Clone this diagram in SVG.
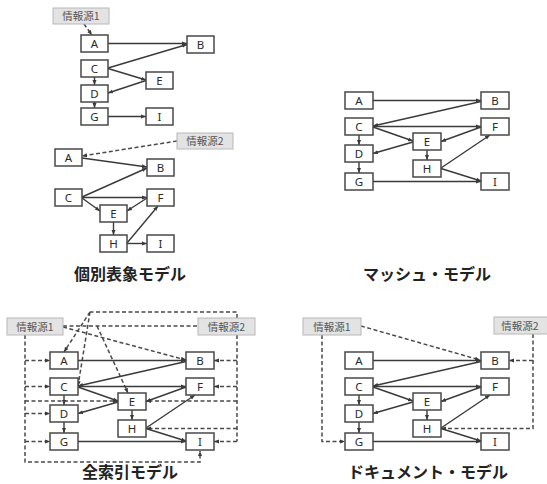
<svg xmlns="http://www.w3.org/2000/svg" width="547" height="484" viewBox="0 0 547 484">
<style>
.bg{fill:#fff}
.box rect{fill:#fff;stroke:#484848;stroke-width:1.5}
.box text{font-family:"Noto Sans","Open Sans",sans-serif;font-size:11.5px;fill:#2a2a2a;text-anchor:middle}
.src rect{fill:#e3e3e3;stroke:#b8b8b8;stroke-width:1}
.src text{font-family:"Noto Sans CJK JP","Noto Sans",sans-serif;font-size:10.5px;fill:#555;text-anchor:middle}
.e{fill:none;stroke:#3a3a3a;stroke-width:1.4;marker-end:url(#ah)}
.d{fill:none;stroke:#4a4a4a;stroke-width:1.5;stroke-dasharray:4 2.5}
.da{marker-end:url(#ah)}
.title{font-family:"Noto Sans CJK JP",sans-serif;font-size:16px;font-weight:bold;fill:#222;text-anchor:middle}
</style>
<defs>
<marker id="ah" viewBox="0 0 10 10" refX="10" refY="5" markerWidth="5" markerHeight="5" markerUnits="userSpaceOnUse" orient="auto"><path d="M0,1 L10,5 L0,9 z" fill="#3a3a3a"/></marker>
</defs>
<rect class="bg" x="0" y="0" width="547" height="484"/>

<!-- ===== Panel 1: 個別表象モデル ===== -->
<g id="p1-connectors">
<path class="d da" d="M84,24 L92,35"/>
<path class="e" d="M108,43.5 L187,43.5"/>
<path class="e" d="M108,68 L187,44.5"/>
<path class="e" d="M108,68.5 L146,80"/>
<path class="e" d="M146,80.5 L108,93"/>
<path class="e" d="M94.5,77 V85"/>
<path class="e" d="M94.5,102 V108"/>
<path class="e" d="M108,116.5 H146"/>
<path class="d da" d="M177,141 L82,156"/>
<path class="e" d="M82,158 L147,167"/>
<path class="e" d="M82,197 L147,168"/>
<path class="e" d="M82,197.5 H147"/>
<path class="e" d="M82,198 L100,211"/>
<path class="e" d="M147,198 L127,211"/>
<path class="e" d="M113.5,222 V235"/>
<path class="e" d="M127,243 L158,206"/>
<path class="e" d="M127,243.5 H147"/>
</g>
<g id="p1-src1" class="src"><rect x="53" y="8" width="56" height="16"/><text x="81" y="20">情報源1</text></g>
<g id="p1-A1" class="box"><rect x="81" y="35" width="27" height="17"/><text x="94.5" y="47.5">A</text></g>
<g id="p1-B1" class="box"><rect x="187" y="36" width="27" height="17"/><text x="200.5" y="48.5">B</text></g>
<g id="p1-C1" class="box"><rect x="81" y="60" width="27" height="17"/><text x="94.5" y="72.5">C</text></g>
<g id="p1-E1" class="box"><rect x="146" y="72" width="27" height="17"/><text x="159.5" y="84.5">E</text></g>
<g id="p1-D1" class="box"><rect x="81" y="85" width="27" height="17"/><text x="94.5" y="97.5">D</text></g>
<g id="p1-G1" class="box"><rect x="81" y="108" width="27" height="17"/><text x="94.5" y="120.5">G</text></g>
<g id="p1-I1" class="box"><rect x="146" y="108" width="27" height="17"/><text x="159.5" y="120.5">I</text></g>
<g id="p1-src2" class="src"><rect x="177" y="133" width="56" height="16"/><text x="205" y="145">情報源2</text></g>
<g id="p1-A2" class="box"><rect x="55" y="149" width="27" height="17"/><text x="68.5" y="161.5">A</text></g>
<g id="p1-B2" class="box"><rect x="147" y="159" width="27" height="17"/><text x="160.5" y="171.5">B</text></g>
<g id="p1-C2" class="box"><rect x="55" y="189" width="27" height="17"/><text x="68.5" y="201.5">C</text></g>
<g id="p1-F2" class="box"><rect x="147" y="189" width="27" height="17"/><text x="160.5" y="201.5">F</text></g>
<g id="p1-E2" class="box"><rect x="100" y="205" width="27" height="17"/><text x="113.5" y="217.5">E</text></g>
<g id="p1-H2" class="box"><rect x="100" y="235" width="27" height="17"/><text x="113.5" y="247.5">H</text></g>
<g id="p1-I2" class="box"><rect x="147" y="235" width="27" height="17"/><text x="160.5" y="247.5">I</text></g>
<text class="title" x="130" y="280">個別表象モデル</text>

<!-- ===== Panel 2: マッシュ・モデル ===== -->
<g id="p2">
<g id="p2-connectors">
<path class="e" d="M373,100.5 L481,100.5"/>
<path class="e" d="M481,101.5 L373,126"/>
<path class="e" d="M373,126.5 L481,126.5"/>
<path class="e" d="M373,127 L413,141"/>
<path class="e" d="M481,127 L441,141.5"/>
<path class="e" d="M413,142 L373,153.5"/>
<path class="e" d="M359,135 V145"/>
<path class="e" d="M359,162 V173"/>
<path class="e" d="M427,150 V160"/>
<path class="e" d="M441,168 L490,135"/>
<path class="e" d="M441,168.5 L481,181"/>
<path class="e" d="M373,181.5 L481,181.5"/>
</g>
<g id="p2-A" class="box"><rect x="345" y="92" width="28" height="17"/><text x="359" y="104.5">A</text></g>
<g id="p2-B" class="box"><rect x="481" y="92" width="28" height="17"/><text x="495" y="104.5">B</text></g>
<g id="p2-C" class="box"><rect x="345" y="118" width="28" height="17"/><text x="359" y="130.5">C</text></g>
<g id="p2-F" class="box"><rect x="481" y="118" width="28" height="17"/><text x="495" y="130.5">F</text></g>
<g id="p2-E" class="box"><rect x="413" y="133" width="28" height="17"/><text x="427" y="145.5">E</text></g>
<g id="p2-D" class="box"><rect x="345" y="145" width="28" height="17"/><text x="359" y="157.5">D</text></g>
<g id="p2-H" class="box"><rect x="413" y="160" width="28" height="17"/><text x="427" y="172.5">H</text></g>
<g id="p2-G" class="box"><rect x="345" y="173" width="28" height="17"/><text x="359" y="185.5">G</text></g>
<g id="p2-I" class="box"><rect x="481" y="173" width="28" height="17"/><text x="495" y="185.5">I</text></g>
</g>
<text class="title" x="427" y="280">マッシュ・モデル</text>

<!-- ===== Panel 3: 全索引モデル ===== -->
<g id="p3-dashed">
<path class="d da" d="M25,335 V462 H200 V451"/>
<path class="d da" d="M25,360.5 H50"/>
<path class="d da" d="M25,386.5 H50"/>
<path class="d da" d="M25,401 H118"/>
<path class="d da" d="M25,413.5 H50"/>
<path class="d da" d="M25,441.5 H50"/>
<path class="d" d="M237,335 V441.5"/>
<path class="d da" d="M237,360.5 H214"/>
<path class="d da" d="M237,386.5 H214"/>
<path class="d da" d="M237,401 H146"/>
<path class="d da" d="M237,428.5 H146"/>
<path class="d da" d="M237,441.5 H214"/>
<path class="d" d="M63,326 H198"/>
<path class="d" d="M237,318 V312 H90"/>
<path class="d da" d="M90,312 L64,352"/>
<path class="d da" d="M90,312 L78,386"/>
<path class="d da" d="M63,327 L186,360"/>
<path class="d da" d="M97,326 L128,393"/>
</g>
<g id="p3" transform="translate(-295,260)">
<g id="p3-connectors">
<path class="e" d="M373,100.5 L481,100.5"/>
<path class="e" d="M481,101.5 L373,126"/>
<path class="e" d="M373,126.5 L481,126.5"/>
<path class="e" d="M373,127 L413,141"/>
<path class="e" d="M481,127 L441,141.5"/>
<path class="e" d="M413,142 L373,153.5"/>
<path class="e" d="M359,135 V145"/>
<path class="e" d="M359,162 V173"/>
<path class="e" d="M427,150 V160"/>
<path class="e" d="M441,168 L490,135"/>
<path class="e" d="M441,168.5 L481,181"/>
<path class="e" d="M373,181.5 L481,181.5"/>
</g>
<g id="p3-A" class="box"><rect x="345" y="92" width="28" height="17"/><text x="359" y="104.5">A</text></g>
<g id="p3-B" class="box"><rect x="481" y="92" width="28" height="17"/><text x="495" y="104.5">B</text></g>
<g id="p3-C" class="box"><rect x="345" y="118" width="28" height="17"/><text x="359" y="130.5">C</text></g>
<g id="p3-F" class="box"><rect x="481" y="118" width="28" height="17"/><text x="495" y="130.5">F</text></g>
<g id="p3-E" class="box"><rect x="413" y="133" width="28" height="17"/><text x="427" y="145.5">E</text></g>
<g id="p3-D" class="box"><rect x="345" y="145" width="28" height="17"/><text x="359" y="157.5">D</text></g>
<g id="p3-H" class="box"><rect x="413" y="160" width="28" height="17"/><text x="427" y="172.5">H</text></g>
<g id="p3-G" class="box"><rect x="345" y="173" width="28" height="17"/><text x="359" y="185.5">G</text></g>
<g id="p3-I" class="box"><rect x="481" y="173" width="28" height="17"/><text x="495" y="185.5">I</text></g>
</g>
<g id="p3-src1" class="src"><rect x="7" y="318" width="56" height="17"/><text x="35" y="330.5">情報源1</text></g>
<g id="p3-src2" class="src"><rect x="198" y="318" width="57" height="17"/><text x="226.5" y="330.5">情報源2</text></g>
<text class="title" x="130" y="478">全索引モデル</text>

<!-- ===== Panel 4: ドキュメント・モデル ===== -->
<g id="p4-dashed">
<path class="d da" d="M322,335 V441.5 H345"/>
<path class="d da" d="M361,326 L480,360"/>
<path class="d da" d="M533,360.5 H509"/>
<path class="d da" d="M533,334 V428.5 H441"/>
</g>
<g id="p4" transform="translate(0,260)">
<g id="p4-connectors">
<path class="e" d="M373,100.5 L481,100.5"/>
<path class="e" d="M481,101.5 L373,126"/>
<path class="e" d="M373,126.5 L481,126.5"/>
<path class="e" d="M373,127 L413,141"/>
<path class="e" d="M481,127 L441,141.5"/>
<path class="e" d="M413,142 L373,153.5"/>
<path class="e" d="M359,135 V145"/>
<path class="e" d="M359,162 V173"/>
<path class="e" d="M427,150 V160"/>
<path class="e" d="M441,168 L490,135"/>
<path class="e" d="M441,168.5 L481,181"/>
<path class="e" d="M373,181.5 L481,181.5"/>
</g>
<g id="p4-A" class="box"><rect x="345" y="92" width="28" height="17"/><text x="359" y="104.5">A</text></g>
<g id="p4-B" class="box"><rect x="481" y="92" width="28" height="17"/><text x="495" y="104.5">B</text></g>
<g id="p4-C" class="box"><rect x="345" y="118" width="28" height="17"/><text x="359" y="130.5">C</text></g>
<g id="p4-F" class="box"><rect x="481" y="118" width="28" height="17"/><text x="495" y="130.5">F</text></g>
<g id="p4-E" class="box"><rect x="413" y="133" width="28" height="17"/><text x="427" y="145.5">E</text></g>
<g id="p4-D" class="box"><rect x="345" y="145" width="28" height="17"/><text x="359" y="157.5">D</text></g>
<g id="p4-H" class="box"><rect x="413" y="160" width="28" height="17"/><text x="427" y="172.5">H</text></g>
<g id="p4-G" class="box"><rect x="345" y="173" width="28" height="17"/><text x="359" y="185.5">G</text></g>
<g id="p4-I" class="box"><rect x="481" y="173" width="28" height="17"/><text x="495" y="185.5">I</text></g>
</g>
<g id="p4-src1" class="src"><rect x="303" y="318" width="58" height="17"/><text x="332" y="330.5">情報源1</text></g>
<g id="p4-src2" class="src"><rect x="494" y="317" width="56" height="17"/><text x="520" y="329.5">情報源2</text></g>
<text class="title" x="428" y="478">ドキュメント・モデル</text>
</svg>
